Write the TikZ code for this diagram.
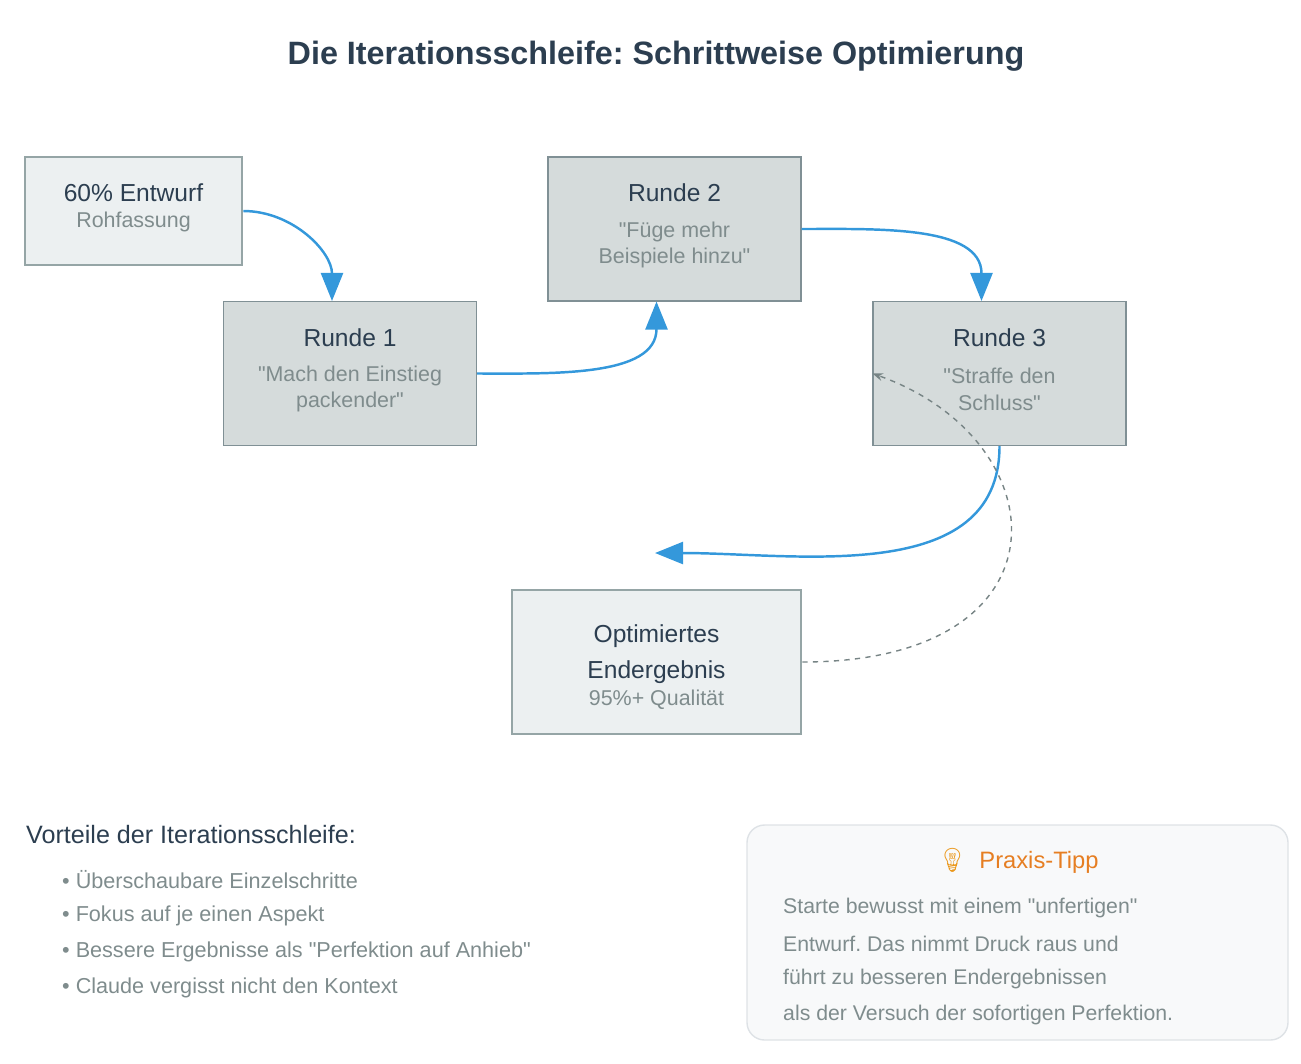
\documentclass[tikz,border=0pt]{standalone}
\usepackage{fontspec}
\setmainfont{Liberation Sans}[Ligatures=TeXOff]
\newfontfamily\emojifont{Noto Emoji}
\usetikzlibrary{arrows.meta,calc}
\definecolor{dark}{HTML}{2C3E50}
\definecolor{grey}{HTML}{7F8C8D}
\definecolor{lightfill}{HTML}{ECF0F1}
\definecolor{roundfill}{HTML}{D5DBDB}
\definecolor{edge}{HTML}{95A5A6}
\definecolor{flow}{HTML}{3498DB}
\definecolor{tipfill}{HTML}{F8F9FA}
\definecolor{tipedge}{HTML}{DEE2E6}
\definecolor{tiporange}{HTML}{E67E22}
\newcommand{\q}{\symbol{34}}
\frenchspacing
\begin{document}
\begin{tikzpicture}[x=0.02cm, y=-0.02cm,
    endbox/.style={draw=edge, line width=1.5pt, fill=lightfill, minimum width=217*0.02cm, minimum height=108*0.02cm},
    roundbox/.style={draw=edge!80!dark, line width=0.6pt, fill=roundfill, minimum width=253*0.02cm, minimum height=144*0.02cm},
    main/.style={font=\fontsize{14}{17}\selectfont, text=dark},
    sub/.style={font=\fontsize{12.2}{15.3}\selectfont, text=grey, align=center},
    flowline/.style={draw=flow, line width=1.4pt, -{Triangle[length=0.56cm,width=0.44cm]}}]

  \useasboundingbox (0,0) rectangle (1301,1063);

  \node[font=\bfseries\fontsize{18.4}{22}\selectfont, text=dark] (title) at (656,56) {Die Iterationsschleife: Schrittweise Optimierung};

  % boxes
  \node[endbox] (start) at (133.5,211) {};
  \node[main] at (133.5,193) {60\% Entwurf};
  \node[sub] at (133.5,222) {Rohfassung};

  \node[roundbox] (r1) at (350,373.5) {};
  \node[main] at (350,338) {Runde 1};
  \node[sub] at (350,389) {\q Mach den Einstieg\\packender\q};

  \node[roundbox] (r2) at (674.5,229) {};
  \node[main] at (674.5,193) {Runde 2};
  \node[sub] at (674.5,245) {\q Füge mehr\\Beispiele hinzu\q};

  \node[roundbox] (r3) at (999.5,373.5) {};
  \node[main] at (999.5,338) {Runde 3};
  \node[sub] at (999.5,389) {\q Straffe den\\Schluss\q};

  \node[endbox, minimum width=289*0.02cm, minimum height=144*0.02cm] (final) at (656.5,662) {};
  \node[main] at (656.5,636) {Optimiertes};
  \node[main] at (656.5,672) {Endergebnis};
  \node[sub] at (656.5,700) {95\%+ Qualität};

  % connectors
  \coordinate (finin) at (655,553);
  \draw[flowline] (start.east) to[out=0,in=90] ([xshift=-0.36cm]r1.north);
  \draw[flowline] (r1.east) to[out=0,in=-90] ([xshift=-0.36cm]r2.south);
  \draw[flowline] (r2.east) to[out=0,in=90] ([xshift=-0.36cm]r3.north);
  \draw[flowline] (r3.south) to[out=-90,in=0] (finin);
  \draw[edge!80!black, line width=0.8pt, dashed, -{Stealth[length=6pt]}]
    (final.east) .. controls (1075,662) and (1060,440) .. (r3.west);

  % benefits
  \node[anchor=west, font=\fontsize{14.3}{17}\selectfont, text=dark] (benefits) at (20,834) {Vorteile der Iterationsschleife:};
  \foreach \t [count=\i] in {Überschaubare Einzelschritte, Fokus auf je einen Aspekt,
      {Bessere Ergebnisse als \q Perfektion auf Anhieb\q}, Claude vergisst nicht den Kontext}
    \node[anchor=west, font=\fontsize{12.3}{15}\selectfont, text=grey] (b\i) at (56,844+36*\i) {• \t};

  % tip box
  \node[draw=tipedge, fill=tipfill, rounded corners=10pt, line width=0.8pt,
        minimum width=541*0.02cm, minimum height=215*0.02cm] (tip) at (1017.5,932.5) {};
  \node[font=\fontsize{13.5}{16}\selectfont, text=tiporange] (tiptitle) at (1018,861) {{\emojifont\textcolor{tiporange!80!yellow}{💡}}\enspace Praxis-Tipp};
  \foreach \t [count=\i] in {Starte bewusst mit einem \q unfertigen\q, Entwurf. Das nimmt Druck raus und,
      führt zu besseren Endergebnissen, als der Versuch der sofortigen Perfektion.}
    \node[anchor=west, font=\fontsize{12.1}{15}\selectfont, text=grey] (t\i) at (777,872+35.7*\i) {\t};
\end{tikzpicture}
\end{document}
